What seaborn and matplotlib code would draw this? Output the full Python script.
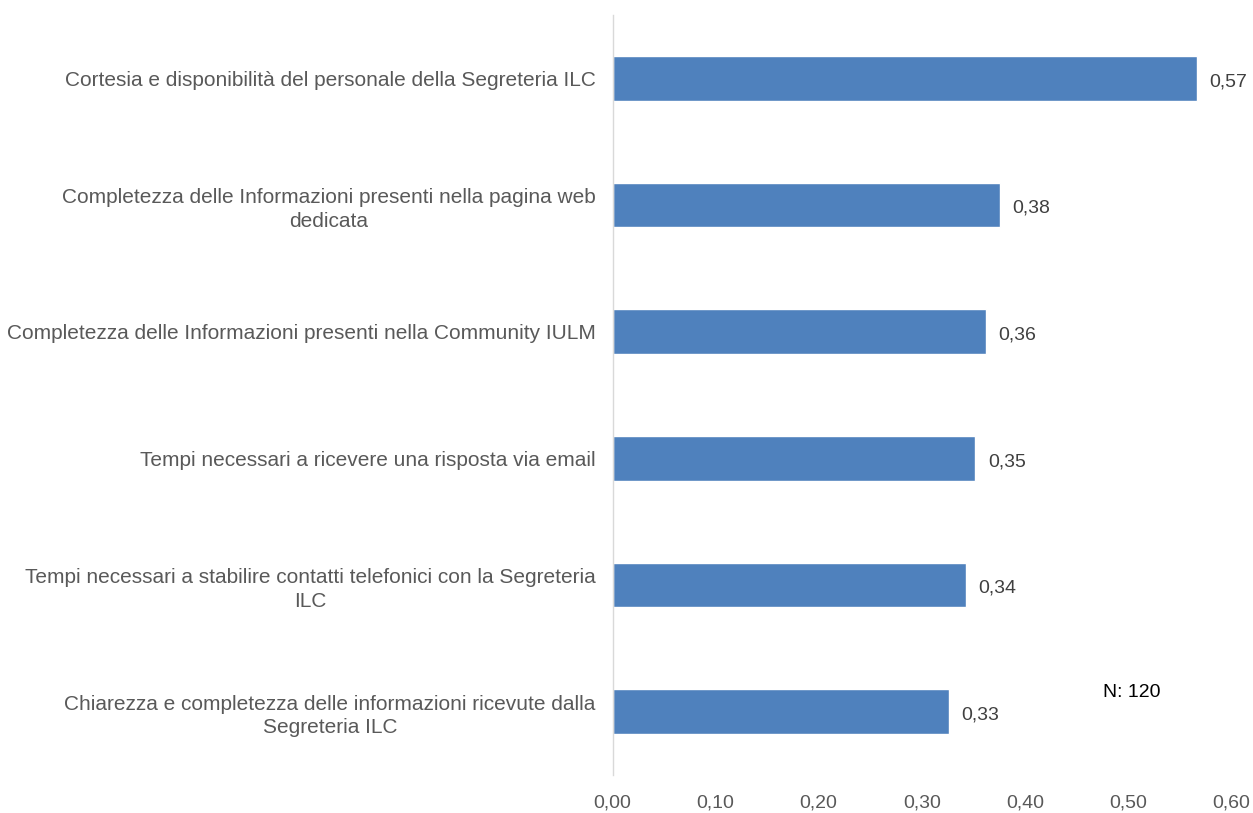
import matplotlib
matplotlib.use("Agg")
import matplotlib.pyplot as plt
import seaborn as sns
import pandas as pd

# dati
categorie = [
    "Cortesia e disponibilità del personale della Segreteria ILC",
    "Completezza delle Informazioni presenti nella pagina web\ndedicata",
    "Completezza delle Informazioni presenti nella Community IULM",
    "Tempi necessari a ricevere una risposta via email",
    "Tempi necessari a stabilire contatti telefonici con la Segreteria\nILC",
    "Chiarezza e completezza delle informazioni ricevute dalla\nSegreteria ILC",
]
valori = [0.567, 0.376, 0.362, 0.352, 0.343, 0.326]
xticks = [0.0, 0.1, 0.2, 0.3, 0.4, 0.5, 0.6]
nota = "N: 120"

sns.set_style("white")
plt.rcParams['font.family'] = ['Liberation Sans', 'DejaVu Sans']

df = pd.DataFrame({"cat": categorie, "val": valori})

fig = plt.figure(figsize=(12.53, 8.13), dpi=100)
ax = fig.add_axes([612.5 / 1253, 1 - 775 / 813, (1231 - 612.5) / 1253, 760 / 813])

sns.barplot(data=df, x="val", y="cat", orient="h", color="#4F81BD",
            saturation=1, width=0.355, ax=ax)

ax.set_xlim(0, 0.6)
ax.set_ylim(5.5, -0.5)
ax.set_xticks(xticks)
ax.set_xticklabels([f"{t:.2f}".replace(".", ",") for t in xticks])
ax.set_xlabel("")
ax.set_ylabel("")
ax.tick_params(axis="x", length=0, pad=14, labelsize=14, labelcolor="#595959")
ax.tick_params(axis="y", length=0, pad=12, labelsize=15, labelcolor="#595959")
for lab in ax.get_yticklabels():
    lab.set_multialignment("center")
    lab.set_linespacing(1.3)

for s in ["top", "right", "bottom"]:
    ax.spines[s].set_visible(False)
ax.spines["left"].set_color("#D9D9D9")
ax.spines["left"].set_linewidth(1)

etichette = ax.bar_label(ax.containers[0],
                         labels=[f"{v:.2f}".replace(".", ",") for v in valori],
                         padding=9, fontsize=14, color="#404040")
for t in etichette:
    t.xyann = (9, -2.5)

fig.text(1132 / 1253, 1 - 692 / 813, nota, fontsize=14, color="black",
         ha="center", va="center")

fig.savefig("out.png", dpi=100)
